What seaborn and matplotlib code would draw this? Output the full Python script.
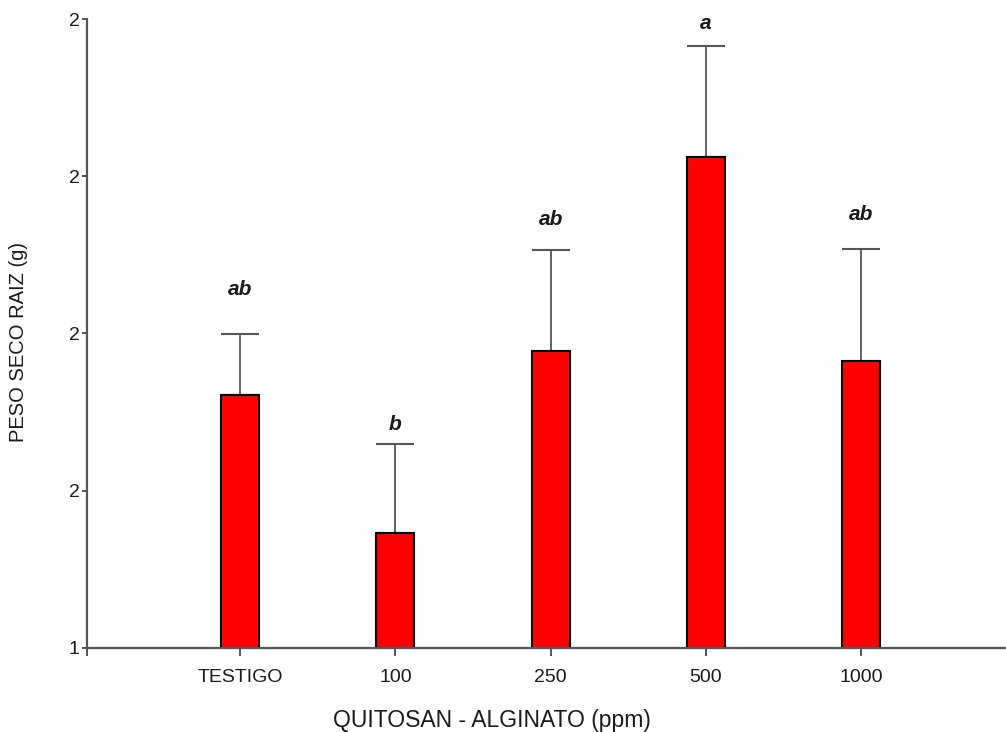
import matplotlib
matplotlib.use("Agg")
import matplotlib.pyplot as plt
from matplotlib.ticker import FormatStrFormatter
import seaborn as sns
import pandas as pd

# Dry root weight by chitosan-alginate dose
tratamientos = ["TESTIGO", "100", "250", "500", "1000"]
peso_medio = [1.722, 1.546, 1.778, 2.025, 1.765]
desviacion = [0.077, 0.113, 0.128, 0.141, 0.143]
letras = ["ab", "b", "ab", "a", "ab"]
letra_y = [1.856, 1.684, 1.945, 2.194, 1.952]
y_ticks = [1.4, 1.6, 1.8, 2.0, 2.2]

df = pd.DataFrame({"trat": tratamientos, "peso": peso_medio, "sd": desviacion})

sns.set_style("white")
plt.rcParams["font.family"] = ["Liberation Sans", "DejaVu Sans"]

fig = plt.figure(figsize=(10.06, 7.32), dpi=100)
ax = fig.add_axes([0.0865, 0.1148, 0.9135, 0.8592])

sns.barplot(data=df, x="trat", y="peso", order=tratamientos, color="#ff0000",
            saturation=1, width=0.245, edgecolor="black", linewidth=1.5,
            errorbar=None, ax=ax, zorder=2)

xs = list(range(len(tratamientos)))
ax.errorbar(xs, df["peso"], yerr=[[0] * len(xs), df["sd"]], fmt="none",
            ecolor="#555555", elinewidth=1.3, capsize=14, capthick=1.5, zorder=1)

for x, t, ly in zip(xs, letras, letra_y):
    ax.text(x, ly, t, ha="center", va="center", fontsize=15,
            fontweight="bold", fontstyle="italic", color="#1a1a1a")

ax.set_ylim(1.4, 2.2)
ax.set_xlim(-0.987, 4.933)
ax.set_yticks(y_ticks)
ax.yaxis.set_major_formatter(FormatStrFormatter("%.0f"))
ax.set_xticks([-0.987] + xs)
ax.set_xticklabels([""] + tratamientos)

for s in ["top", "right"]:
    ax.spines[s].set_visible(False)
for s in ["left", "bottom"]:
    ax.spines[s].set_color("#555555")
    ax.spines[s].set_linewidth(1.6)

ax.tick_params(axis="y", direction="out", length=3.5, width=1.4, color="#555555",
               labelsize=14, pad=2, left=True, labelcolor="#1a1a1a")
ax.tick_params(axis="x", direction="out", length=6, width=1.4, color="#555555",
               labelsize=14, pad=9, bottom=True, labelcolor="#1a1a1a")

ax.set_xlabel("QUITOSAN - ALGINATO (ppm)", fontsize=16.5, color="#1a1a1a")
ax.set_ylabel("PESO SECO RAIZ (g)", fontsize=14.5, color="#1a1a1a")
ax.xaxis.set_label_coords(0.4407, -0.097)
ax.yaxis.set_label_coords(-0.064, 0.486)

fig.savefig("out.png", dpi=100)
